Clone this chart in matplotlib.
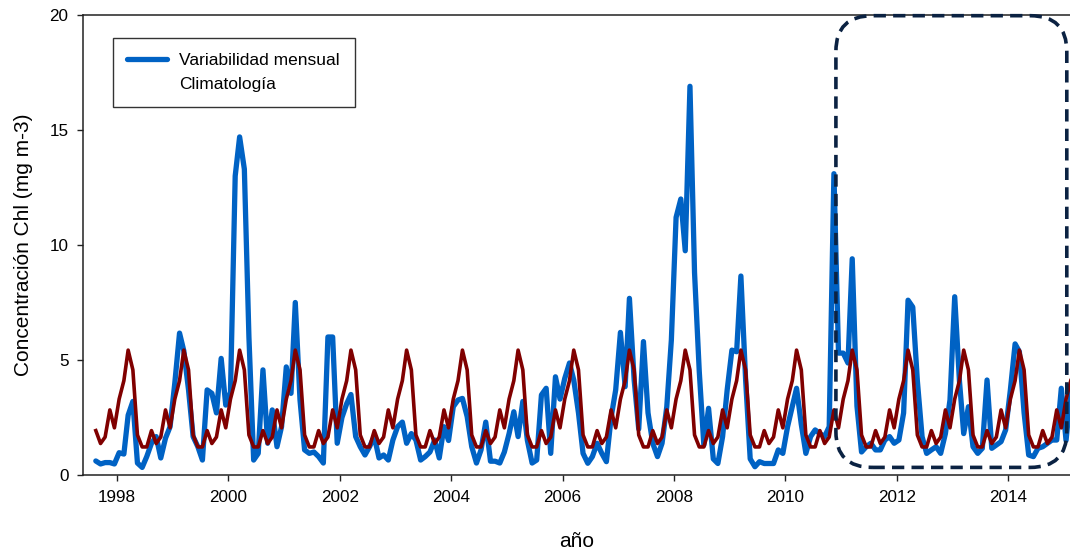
import numpy as np
import pandas as pd
import matplotlib
matplotlib.use("Agg")
import matplotlib.pyplot as plt
import matplotlib.dates as mdates
from matplotlib.lines import Line2D
from matplotlib.patches import FancyBboxPatch

plt.rcParams['font.family'] = ['Liberation Sans', 'DejaVu Sans']

# Clorofila mensual (mg m-3), ago-1997 .. feb-2015
chl_1997 = [0.61, 0.48, 0.54, 0.54, 0.48]
chl_1998 = [0.97, 0.91, 2.6, 3.2, 0.52, 0.33, 0.8, 1.38, 1.67, 0.74, 1.6, 2.1]
chl_1999 = [4.0, 6.17, 5.4, 3.7, 1.67, 1.23, 0.65, 3.7, 3.55, 2.7, 5.07, 3.04]
chl_2000 = [3.6, 13.0, 14.7, 13.3, 6.0, 0.65, 0.94, 4.57, 1.38, 2.83, 1.23, 2.1]
chl_2001 = [4.7, 3.55, 7.5, 3.26, 1.09, 0.94, 1.0, 0.8, 0.52, 6.0, 6.0, 1.38]
chl_2002 = [2.5, 3.1, 3.5, 1.67, 1.23, 0.87, 1.23, 1.67, 0.74, 0.87, 0.65, 1.52]
chl_2003 = [2.1, 2.3, 1.38, 1.8, 1.52, 0.65, 0.8, 1.0, 1.52, 0.74, 2.1, 1.5]
chl_2004 = [2.97, 3.26, 3.33, 2.54, 1.23, 0.52, 1.09, 2.3, 0.6, 0.6, 0.52, 1.0]
chl_2005 = [1.8, 2.75, 1.67, 3.2, 1.5, 0.52, 0.65, 3.48, 3.77, 0.94, 4.27, 3.3]
chl_2006 = [4.2, 4.87, 4.13, 2.7, 0.94, 0.51, 0.8, 1.38, 0.94, 0.58, 2.5, 3.7]
chl_2007 = [6.2, 3.84, 7.68, 4.13, 2.0, 5.8, 2.7, 1.38, 0.8, 1.38, 2.97, 5.87]
chl_2008 = [11.2, 12.0, 9.75, 16.9, 8.8, 4.5, 1.3, 2.9, 0.7, 0.5, 1.67, 3.7]
chl_2009 = [5.43, 5.36, 8.65, 4.13, 0.7, 0.36, 0.58, 0.5, 0.5, 0.5, 1.09, 0.94]
chl_2010 = [2.1, 2.97, 3.77, 2.2, 0.94, 1.67, 1.96, 1.8, 1.67, 2.1, 13.1, 5.3]
chl_2011 = [5.3, 4.87, 9.4, 3.0, 1.0, 1.23, 1.38, 1.09, 1.09, 1.52, 1.67, 1.38]
chl_2012 = [1.52, 2.7, 7.6, 7.3, 4.1, 1.67, 0.94, 1.09, 1.23, 0.94, 1.8, 3.26]
chl_2013 = [7.75, 4.1, 1.8, 2.97, 1.23, 0.94, 1.16, 4.13, 1.16, 1.3, 1.45, 1.96]
chl_2014 = [3.7, 5.7, 5.36, 2.7, 0.87, 0.8, 1.16, 1.23, 1.38, 1.52, 1.52, 3.77]
chl_2015 = [1.5, 3.6]

# climatologia mensual (ene..dic)
clim_mes = [3.3, 4.1, 5.43, 4.57, 1.74, 1.22, 1.22, 1.93, 1.37, 1.65, 2.83, 2.05]

chl = np.concatenate([chl_1997, chl_1998, chl_1999, chl_2000, chl_2001, chl_2002,
                      chl_2003, chl_2004, chl_2005, chl_2006, chl_2007, chl_2008,
                      chl_2009, chl_2010, chl_2011, chl_2012, chl_2013, chl_2014,
                      chl_2015])
fechas = pd.date_range('1997-08-01', periods=len(chl), freq='MS') + pd.Timedelta(days=14)
clim = np.array(clim_mes)[fechas.month - 1]

fig = plt.figure(figsize=(10.7, 5.54), dpi=100)
ax = fig.add_axes([83 / 1070, 1 - 475 / 554, 1 - 83 / 1070, 460 / 554])

azul, = ax.plot(fechas, chl, color='#0062c4', lw=3.8, solid_joinstyle='round',
                solid_capstyle='round', label='Variabilidad mensual')
ax.plot(fechas, clim, color='#800000', lw=2.6, solid_joinstyle='round')

ax.set_xlim(pd.Timestamp('1997-05-23'), pd.Timestamp('2015-02-10'))
ax.set_ylim(0, 20)
ax.set_yticks([0, 5, 10, 15, 20])
ax.xaxis.set_major_locator(mdates.YearLocator(2))
ax.xaxis.set_major_formatter(mdates.DateFormatter('%Y'))

for s in ['left', 'bottom', 'top']:
    ax.spines[s].set_color('#222222')
    ax.spines[s].set_linewidth(1.1)
ax.spines['right'].set_visible(False)
ax.tick_params(direction='out', length=4.5, width=1.0, color='#222222',
               labelsize=12.3, pad=6)

ax.set_ylabel('Concentración Chl (mg m-3)', fontsize=15, labelpad=12)
ax.set_xlabel('año', fontsize=15, labelpad=20)

vacio = Line2D([], [], color='none')
leg = ax.legend([azul, vacio], ['Variabilidad mensual', 'Climatología'],
                loc='upper left', bbox_to_anchor=(0.030, 0.95), borderaxespad=0,
                fancybox=False, edgecolor='black', fontsize=12.5, handlelength=2.3,
                handletextpad=0.7, borderpad=0.85, labelspacing=0.5)
leg.get_frame().set_linewidth(1.0)

# recuadro discontinuo 2011-2015
caja = FancyBboxPatch((mdates.datestr2num('2010-11-28'), 0.33),
                      mdates.datestr2num('2015-01-20') - mdates.datestr2num('2010-11-28'),
                      19.64,
                      boxstyle='round,pad=0,rounding_size=240', mutation_aspect=1.55 / 240,
                      fill=False, edgecolor='#0b2242', lw=2.6, linestyle=(0, (3.4, 2.0)),
                      clip_on=False, zorder=5)
ax.add_patch(caja)

fig.savefig('out.png', dpi=100)
